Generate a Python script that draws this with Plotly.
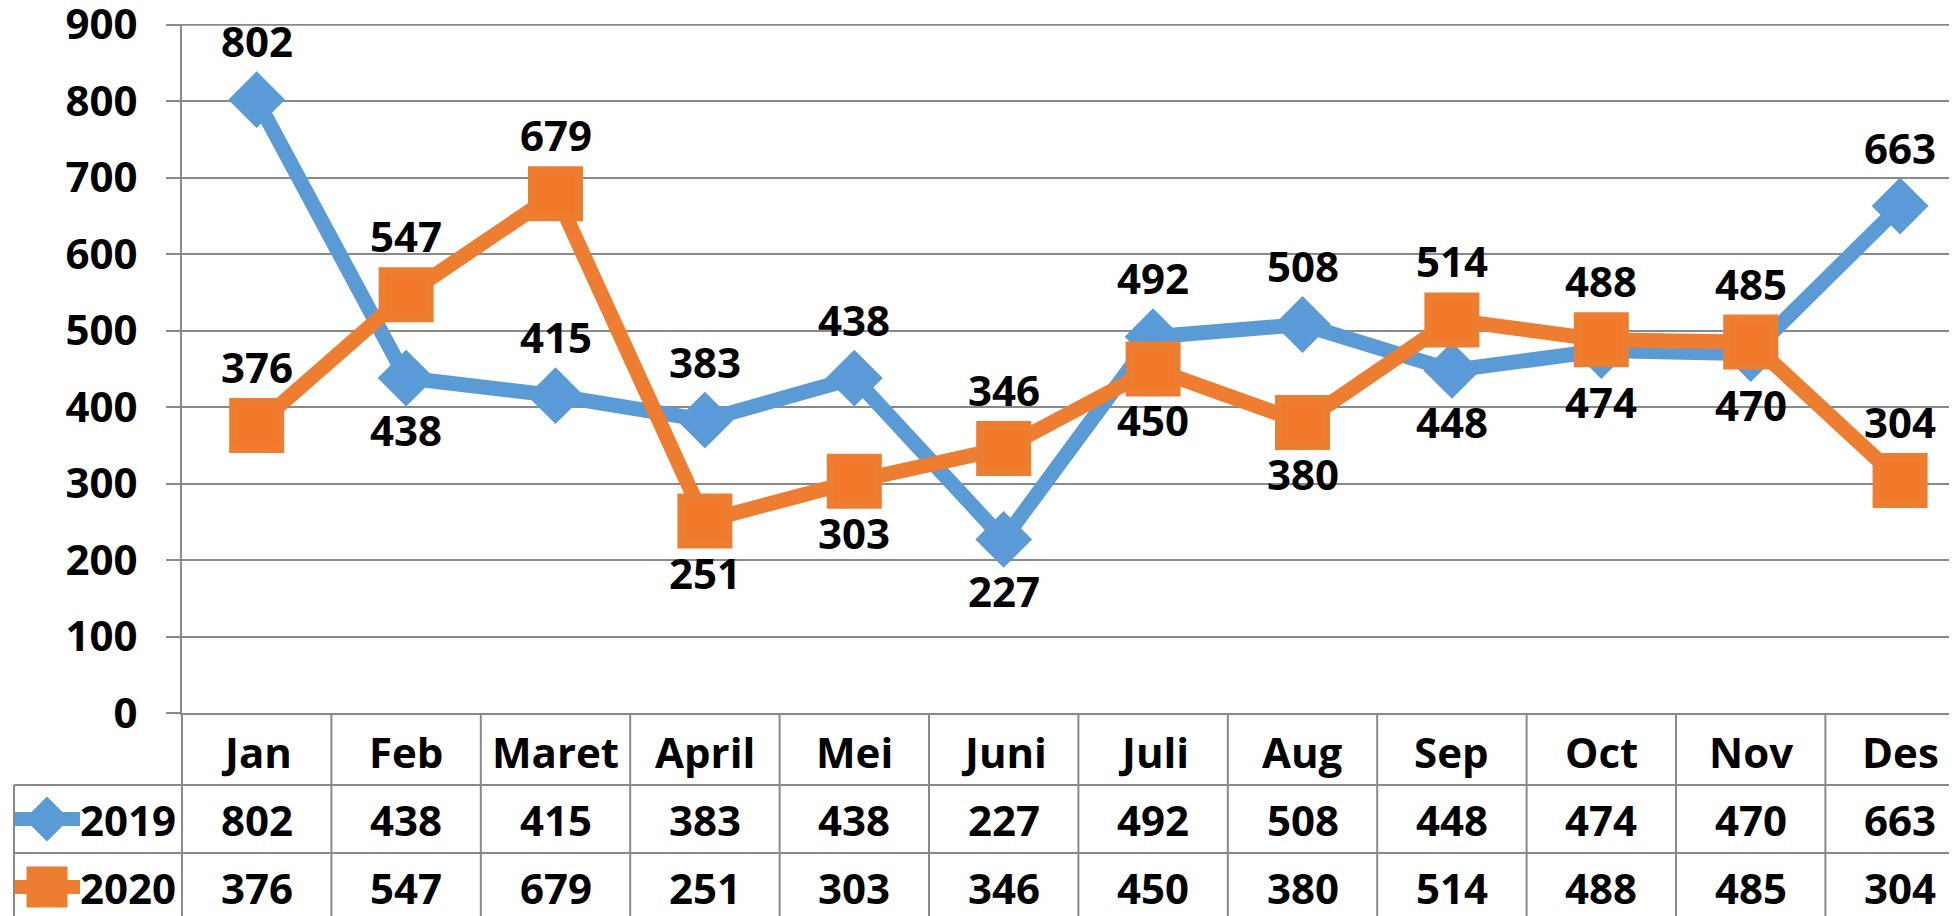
import plotly.graph_objects as go

# Data
months = ['Jan', 'Feb', 'Maret', 'April', 'Mei', 'Juni', 'Juli', 'Aug', 'Sep', 'Oct', 'Nov', 'Des']
sales_2019 = [802, 438, 415, 383, 438, 227, 492, 508, 448, 474, 470, 663]
sales_2020 = [376, 547, 679, 251, 303, 346, 450, 380, 514, 488, 485, 304]
series_names = ['2019', '2020']

# label placement for each point: 1 = above, -1 = below
side_2019 = [1, -1, 1, 1, 1, -1, 1, 1, -1, -1, -1, 1]
side_2020 = [1, 1, 1, -1, -1, 1, -1, -1, 1, 1, 1, 1]

BLUE = '#5B9BD5'
ORANGE = '#ED7D31'
GRID = '#898989'
FONT = 'Open Sans'
FS = 42

# screen geometry; the page body has an 8px margin, so the figure is shifted
W, H = 1957, 916
OFF = 8
FW, FH = W - OFF, H - OFF
plot_left, plot_top, plot_bottom = 182 - OFF, 24 - OFF, 713 - OFF
col_w = 149.4
y_dom_low = (FH - plot_bottom) / (FH - plot_top)


def px(x):
	# screen x pixel -> paper fraction
	return (x - OFF) / FW


fig = go.Figure()

# main lines (2020 drawn on top, as in the original)
fig.add_trace(go.Scatter(
	x=months, y=sales_2019, mode='lines+markers', name=series_names[0],
	line=dict(color=BLUE, width=15),
	marker=dict(symbol='diamond', size=35, color='#5A9ADA', line=dict(color=BLUE, width=8)),
))
fig.add_trace(go.Scatter(
	x=months, y=sales_2020, mode='lines+markers', name=series_names[1],
	line=dict(color=ORANGE, width=15),
	marker=dict(symbol='square', size=47, color='#F2792A', line=dict(color=ORANGE, width=8)),
))

# legend keys inside the data table
key_rows = [1, 0]
for row, col, sym, msize in [(1, BLUE, 'diamond', 28), (0, ORANGE, 'square', 35)]:
	fig.add_trace(go.Scatter(
		x=[0, 1], y=[row, row], mode='lines', xaxis='x2', yaxis='y2',
		line=dict(color=col, width=14), hoverinfo='skip',
	))
	fig.add_trace(go.Scatter(
		x=[0.5], y=[row], mode='markers', xaxis='x2', yaxis='y2',
		marker=dict(symbol=sym, size=msize, color=col, line=dict(color=col, width=6)), hoverinfo='skip',
	))

annotations = []
label_font = dict(family=FONT, size=FS, color='black', weight='bold')

# data labels
for vals, sides in [(sales_2019, side_2019), (sales_2020, side_2020)]:
	for m, v, s in zip(months, vals, sides):
		annotations.append(dict(
			x=m, y=v, xref='x', yref='y', text=str(v), showarrow=False,
			yshift=s * 55 + 4, font=label_font,
		))

# data table text
for m, a, b in zip(months, sales_2019, sales_2020):
	annotations.append(dict(x=m, y=2, xref='x', yref='y2', text=m, showarrow=False, font=label_font))
	annotations.append(dict(x=m, y=1, xref='x', yref='y2', text=str(a), showarrow=False, font=label_font))
	annotations.append(dict(x=m, y=0, xref='x', yref='y2', text=str(b), showarrow=False, font=label_font))
for name, row in zip(series_names, key_rows):
	annotations.append(dict(
		x=px(178), y=row, xref='paper', yref='y2', text=name, showarrow=False,
		xanchor='right', font=label_font,
	))

# table grid lines
tb_bottom, tb_top = -0.426, 2.559
line_style = dict(color=GRID, width=2)
shapes = []
for yv in [1.5, 0.5]:
	shapes.append(dict(type='line', xref='paper', yref='y2', x0=px(14), x1=1, y0=yv, y1=yv, line=line_style))
for i in range(1, len(months)):
	shapes.append(dict(type='line', xref='x', yref='y2', x0=i - 0.5, x1=i - 0.5, y0=tb_bottom, y1=tb_top, line=line_style))
shapes.append(dict(type='line', xref='paper', yref='y2', x0=px(182), x1=px(182), y0=tb_bottom, y1=tb_top, line=line_style))
shapes.append(dict(type='line', xref='paper', yref='y2', x0=px(14), x1=px(14), y0=tb_bottom, y1=1.5, line=line_style))
# top gridline (900) spans the full width
shapes.append(dict(type='line', xref='paper', yref='y', x0=px(168), x1=1, y0=900, y1=900, line=line_style))

fig.update_layout(
	width=FW, height=FH,
	margin=dict(l=0, r=0, t=plot_top, b=0, autoexpand=False),
	paper_bgcolor='white', plot_bgcolor='white',
	showlegend=False,
	font=dict(family=FONT, color='black'),
	xaxis=dict(
		domain=[plot_left / FW, 1], range=[-0.5, -0.5 + (FW - plot_left) / col_w],
		showline=True, linecolor=GRID, linewidth=2, showgrid=False, zeroline=False,
		showticklabels=False, ticks='', automargin=False,
	),
	yaxis=dict(
		domain=[y_dom_low, 1], range=[0, 901], tickvals=list(range(0, 1000, 100)),
		showline=True, linecolor=GRID, linewidth=2,
		showgrid=True, gridcolor=GRID, gridwidth=2, zeroline=False,
		ticks='outside', ticklen=14, tickwidth=2, tickcolor=GRID,
		ticklabelstandoff=20, ticklabeloverflow='allow', automargin=False,
		tickfont=dict(family=FONT, size=FS, color='black', weight='bold'),
	),
	xaxis2=dict(domain=[px(14), px(80)], range=[0, 1], anchor='y2', visible=False, automargin=False),
	yaxis2=dict(domain=[0, y_dom_low], range=[tb_bottom, tb_top], anchor='x2', visible=False, automargin=False),
	annotations=annotations,
	shapes=shapes,
)

fig.write_html("out.html")
